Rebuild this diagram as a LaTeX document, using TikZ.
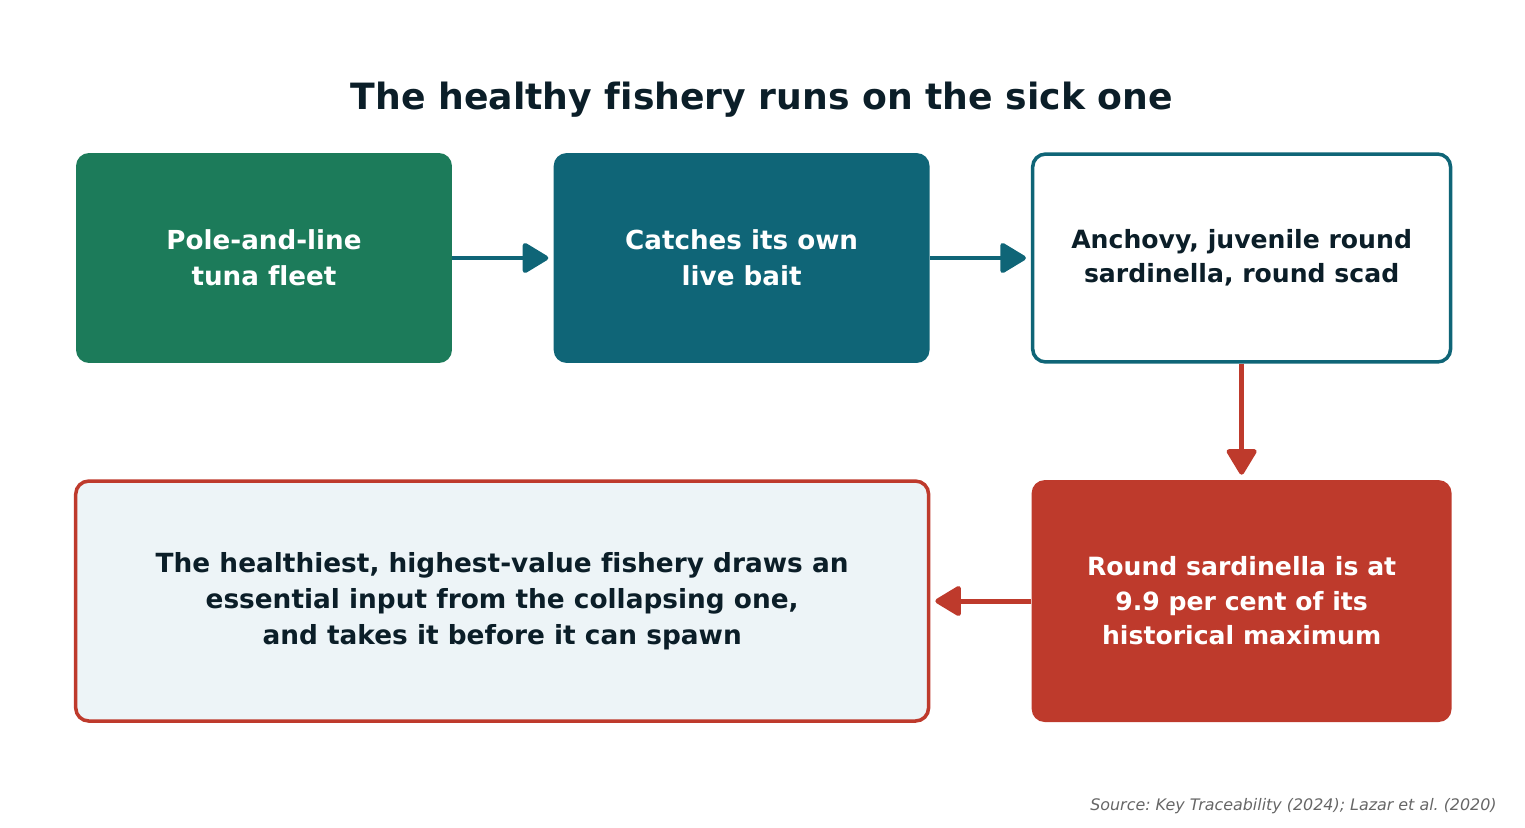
\documentclass[tikz,border=0pt]{standalone}
\usepackage{fontspec}
\setmainfont[Ligatures=NoCommon]{DejaVu Sans}
\usepackage{xcolor}
\usetikzlibrary{positioning,arrows.meta}
\definecolor{fleetgreen}{HTML}{1C7B5A}
\definecolor{baitteal}{HTML}{0F6577}
\definecolor{stockred}{HTML}{BE3A2C}
\definecolor{inkdark}{HTML}{0B1E28}
\definecolor{paleblue}{HTML}{EDF4F7}
\definecolor{sourcegray}{HTML}{666666}
\frenchspacing

\begin{document}
\begin{tikzpicture}[x=0.02cm, y=-0.02cm,
node distance=2.02cm and 2.02cm,
solidbox/.style={rectangle, rounded corners=0.26cm, text=white, minimum width=7.52cm, minimum height=4.2cm, font=\fontsize{14.9}{20.4}\selectfont\bfseries, align=center},
outlinebox/.style={rectangle, rounded corners=0.26cm, line width=2pt, text=inkdark, align=center},
arrow/.style={line width=2.8pt, -{Triangle[length=16pt, width=18.5pt, round]}, shorten >=0.1cm}]
\useasboundingbox (0,0) rectangle (1525,828);
\node[font=\fontsize{20.6}{24}\selectfont\bfseries, text=inkdark] (title) at (762,100) {The healthy fishery runs on the sick one};
\node[solidbox, fill=fleetgreen] (1) at (264,258) {Pole-and-line\\tuna fleet};
\node[solidbox, fill=baitteal] (2) [right=of 1] {Catches its own\\live bait};
\node[outlinebox, draw=baitteal, fill=white, minimum width=8.36cm, minimum height=4.16cm, font=\fontsize{14.3}{19.3}\selectfont\bfseries] (3) [right=of 2] {Anchovy, juvenile round\\sardinella, round scad};
\node[solidbox, fill=stockred, minimum width=8.4cm, minimum height=4.84cm, font=\fontsize{14.3}{19.6}\selectfont\bfseries] (4) [below=2.32cm of 3] {Round sardinella is at\\9.9 per cent of its\\historical maximum};
\node[outlinebox, draw=stockred, fill=paleblue, minimum width=17.06cm, minimum height=4.8cm, font=\fontsize{15}{20.4}\selectfont\bfseries] (5) [left=of 4] {The healthiest, highest-value fishery draws an\\essential input from the collapsing one,\\and takes it before it can spawn};
\node[anchor=east, inner sep=0pt, text=sourcegray, font=\fontsize{9.05}{10}\selectfont\itshape] (source) at (1497,806) {Source: Key Traceability (2024); Lazar et al. (2020)};

\draw[arrow, baitteal] (1) -- (2);
\draw[arrow, baitteal] (2) -- (3);
\draw[arrow, stockred] (3) -- (4);
\draw[arrow, stockred] (4) -- (5);
\end{tikzpicture}
\end{document}
